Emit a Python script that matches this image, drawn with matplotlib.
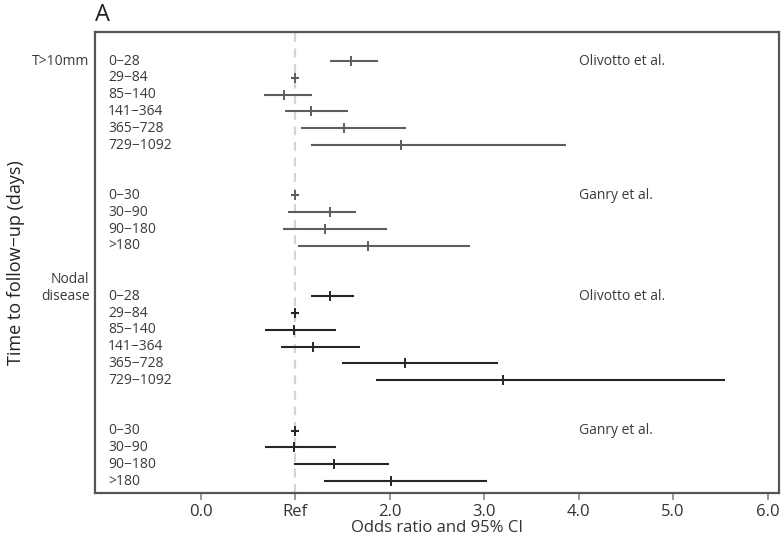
"""Forest plot: odds ratio and 95% CI by time to follow-up (panel A)."""
import matplotlib
matplotlib.use("Agg")
import matplotlib.pyplot as plt

plt.rcParams['font.family'] = ['Open Sans', 'DejaVu Sans']

# rows (top -> bottom), blank rows between groups are left out
intervals_olivotto = ['0\u221228', '29\u221284', '85\u2212140', '141\u2212364', '365\u2212728', '729\u22121092']
intervals_ganry = ['0\u221230', '30\u221290', '90\u2212180', '>180']

# T>10mm, Olivotto et al.
t10_oli_or = [1.59, 1.00, 0.88, 1.17, 1.52, 2.12]
t10_oli_lo = [1.37, 0.96, 0.67, 0.89, 1.06, 1.17]
t10_oli_hi = [1.88, 1.04, 1.18, 1.56, 2.17, 3.87]
# T>10mm, Ganry et al.
t10_gan_or = [1.00, 1.37, 1.32, 1.77]
t10_gan_lo = [0.96, 0.92, 0.87, 1.03]
t10_gan_hi = [1.04, 1.64, 1.97, 2.85]
# Nodal disease, Olivotto et al.
nod_oli_or = [1.37, 1.00, 0.99, 1.19, 2.16, 3.20]
nod_oli_lo = [1.17, 0.96, 0.68, 0.85, 1.50, 1.85]
nod_oli_hi = [1.62, 1.04, 1.43, 1.69, 3.15, 5.55]
# Nodal disease, Ganry et al.
nod_gan_or = [1.00, 0.99, 1.41, 2.01]
nod_gan_lo = [0.96, 0.68, 0.99, 1.30]
nod_gan_hi = [1.04, 1.43, 1.99, 3.03]

xticks = [0, 1, 2, 3, 4, 5, 6]
xticklabels = ['0.0', 'Ref', '2.0', '3.0', '4.0', '5.0', '6.0']

groups = [
    # (labels, or, lo, hi, first row, study, colour)
    (intervals_olivotto, t10_oli_or, t10_oli_lo, t10_oli_hi, 0, 'Olivotto et al.', '#5e5e5e'),
    (intervals_ganry, t10_gan_or, t10_gan_lo, t10_gan_hi, 8, 'Ganry et al.', '#5e5e5e'),
    (intervals_olivotto, nod_oli_or, nod_oli_lo, nod_oli_hi, 14, 'Olivotto et al.', '#262626'),
    (intervals_ganry, nod_gan_or, nod_gan_lo, nod_gan_hi, 22, 'Ganry et al.', '#262626'),
]

fig = plt.figure(figsize=(7.81, 5.44), dpi=100)
ax = fig.add_axes([0.1216, 0.0938, 0.8758, 0.8474])

ax.axvline(1, color='#d4d4d4', linestyle=(0, (4, 3)), linewidth=1.6, zorder=0)

lab_tr = ax.get_yaxis_transform()
for labels, ors, los, his, start, study, col in groups:
    ys = [start + i for i in range(len(labels))]
    ax.hlines(ys, los, his, color=col, linewidth=1.5)
    ax.plot(ors, ys, linestyle='none', marker='|', markersize=7,
            markeredgewidth=1.4, color=col)
    for y, lab in zip(ys, labels):
        ax.text(0.019, y, lab, transform=lab_tr, ha='left', va='center',
                fontsize=10, color='#3a3a3a')
    ax.text(4.0, start, study, ha='left', va='center', fontsize=10, color='#3a3a3a')

ax.set_xlim(-1.12, 6.12)
ax.set_ylim(25.71, -1.73)
ax.set_yticks([])
ax.set_xticks(xticks)
ax.set_xticklabels(xticklabels, fontsize=12, color='#333333')
ax.tick_params(axis='x', length=5, width=1.2, color='#888888', pad=3)
for s in ax.spines.values():
    s.set_color('#555555')
    s.set_linewidth(1.6)

ax.set_xlabel('Odds ratio and 95% CI', fontsize=12, color='#333333', labelpad=0)
fig.text(0.02, 0.518, 'Time to follow\u2212up (days)', rotation=90, ha='center',
         va='center', fontsize=13, color='#222222')

# group labels outside the box
ax.text(-0.008, 0, 'T>10mm', transform=lab_tr, ha='right', va='center',
        fontsize=10, color='#3a3a3a')
ax.text(-0.008, 13, 'Nodal', transform=lab_tr, ha='right', va='center',
        fontsize=10, color='#3a3a3a')
ax.text(-0.008, 14, 'disease', transform=lab_tr, ha='right', va='center',
        fontsize=10, color='#3a3a3a')

fig.text(0.122, 0.972, 'A', fontsize=17, ha='left', va='center', color='#222222')

fig.savefig('out.png', dpi=100)
